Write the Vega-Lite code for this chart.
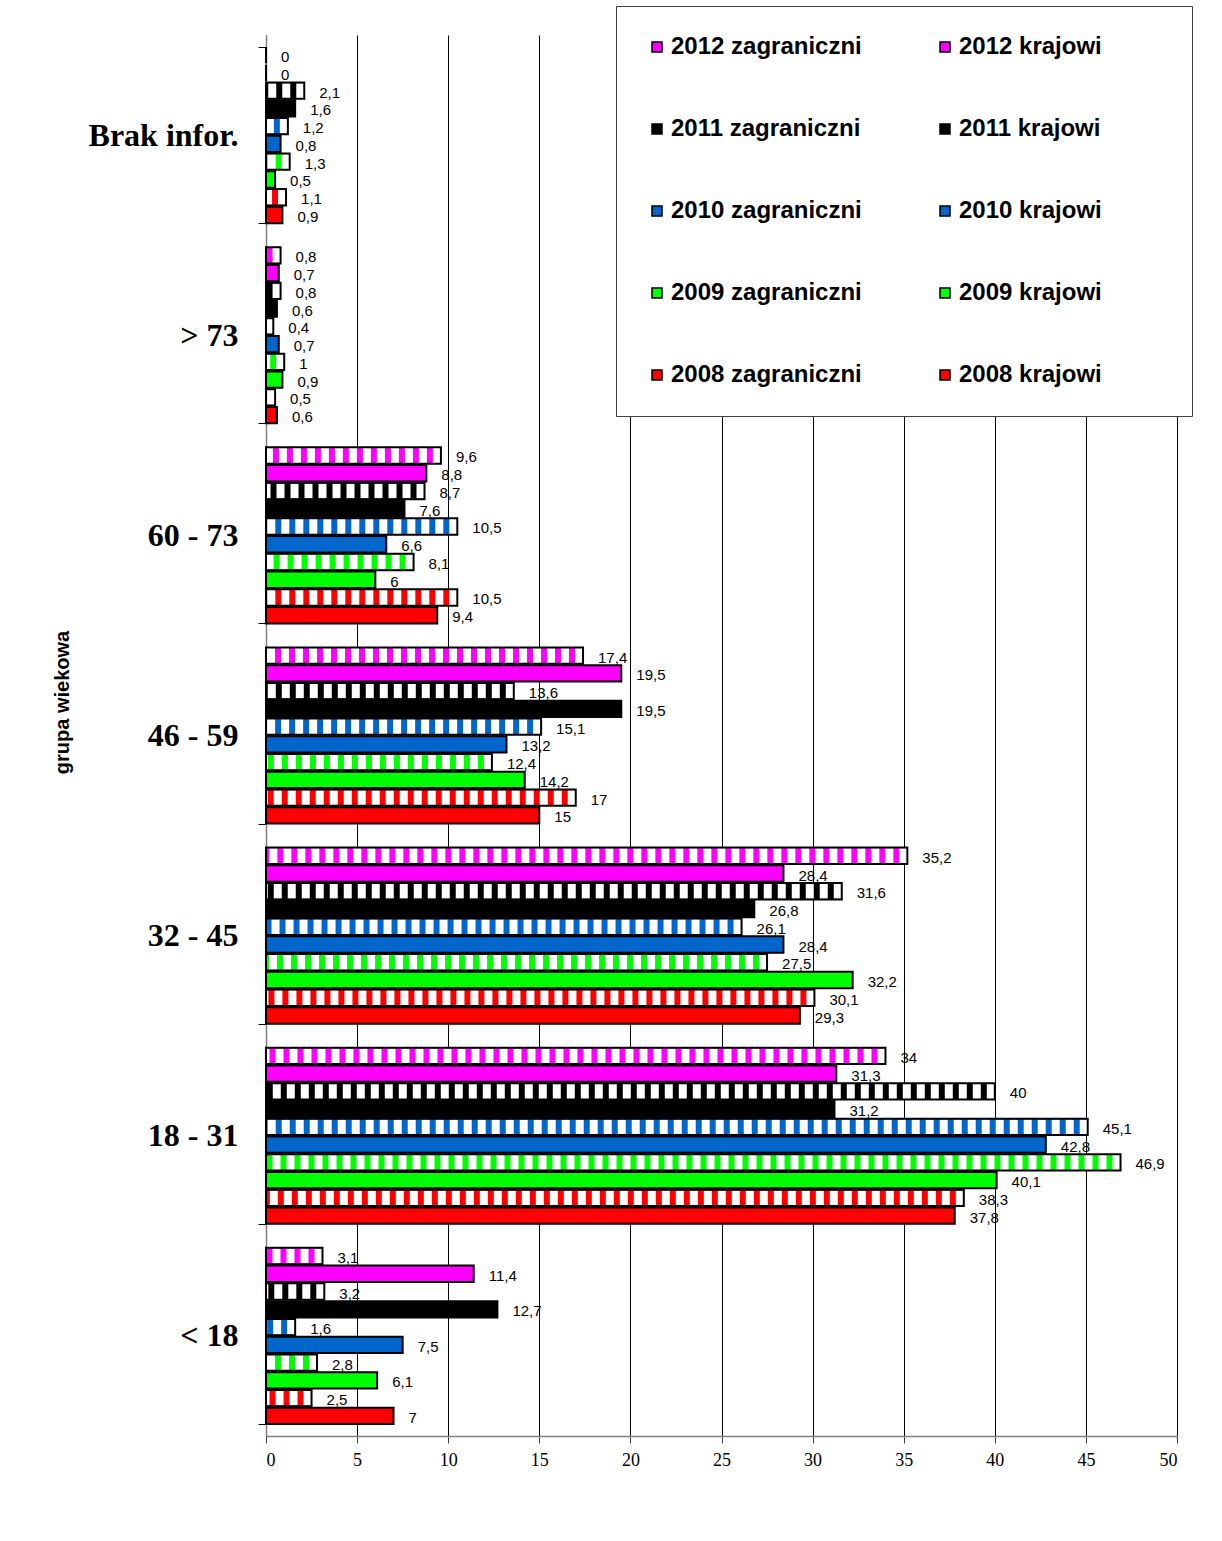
{
  "$schema": "https://vega.github.io/schema/vega-lite/v6.json",
  "width": 911,
  "height": 1401,
  "autosize": {"type": "none"},
  "padding": {"left": 266, "top": 35, "right": 45, "bottom": 105},
  "background": "white",
  "config": {
    "view": {"stroke": null},
    "locale": {"number": {"decimal": ",", "thousands": " ", "grouping": [3], "currency": ["", ""]}}
  },
  "data": {
    "values": [
      {"g": "Brak infor.", "s": "2012 zagraniczni", "v": 0},
      {"g": "Brak infor.", "s": "2012 krajowi", "v": 0},
      {"g": "Brak infor.", "s": "2011 zagraniczni", "v": 2.1},
      {"g": "Brak infor.", "s": "2011 krajowi", "v": 1.6},
      {"g": "Brak infor.", "s": "2010 zagraniczni", "v": 1.2},
      {"g": "Brak infor.", "s": "2010 krajowi", "v": 0.8},
      {"g": "Brak infor.", "s": "2009 zagraniczni", "v": 1.3},
      {"g": "Brak infor.", "s": "2009 krajowi", "v": 0.5},
      {"g": "Brak infor.", "s": "2008 zagraniczni", "v": 1.1},
      {"g": "Brak infor.", "s": "2008 krajowi", "v": 0.9},
      {"g": "> 73", "s": "2012 zagraniczni", "v": 0.8},
      {"g": "> 73", "s": "2012 krajowi", "v": 0.7},
      {"g": "> 73", "s": "2011 zagraniczni", "v": 0.8},
      {"g": "> 73", "s": "2011 krajowi", "v": 0.6},
      {"g": "> 73", "s": "2010 zagraniczni", "v": 0.4},
      {"g": "> 73", "s": "2010 krajowi", "v": 0.7},
      {"g": "> 73", "s": "2009 zagraniczni", "v": 1},
      {"g": "> 73", "s": "2009 krajowi", "v": 0.9},
      {"g": "> 73", "s": "2008 zagraniczni", "v": 0.5},
      {"g": "> 73", "s": "2008 krajowi", "v": 0.6},
      {"g": "60 - 73", "s": "2012 zagraniczni", "v": 9.6},
      {"g": "60 - 73", "s": "2012 krajowi", "v": 8.8},
      {"g": "60 - 73", "s": "2011 zagraniczni", "v": 8.7},
      {"g": "60 - 73", "s": "2011 krajowi", "v": 7.6},
      {"g": "60 - 73", "s": "2010 zagraniczni", "v": 10.5},
      {"g": "60 - 73", "s": "2010 krajowi", "v": 6.6},
      {"g": "60 - 73", "s": "2009 zagraniczni", "v": 8.1},
      {"g": "60 - 73", "s": "2009 krajowi", "v": 6},
      {"g": "60 - 73", "s": "2008 zagraniczni", "v": 10.5},
      {"g": "60 - 73", "s": "2008 krajowi", "v": 9.4},
      {"g": "46 - 59", "s": "2012 zagraniczni", "v": 17.4},
      {"g": "46 - 59", "s": "2012 krajowi", "v": 19.5},
      {"g": "46 - 59", "s": "2011 zagraniczni", "v": 13.6},
      {"g": "46 - 59", "s": "2011 krajowi", "v": 19.5},
      {"g": "46 - 59", "s": "2010 zagraniczni", "v": 15.1},
      {"g": "46 - 59", "s": "2010 krajowi", "v": 13.2},
      {"g": "46 - 59", "s": "2009 zagraniczni", "v": 12.4},
      {"g": "46 - 59", "s": "2009 krajowi", "v": 14.2},
      {"g": "46 - 59", "s": "2008 zagraniczni", "v": 17},
      {"g": "46 - 59", "s": "2008 krajowi", "v": 15},
      {"g": "32 - 45", "s": "2012 zagraniczni", "v": 35.2},
      {"g": "32 - 45", "s": "2012 krajowi", "v": 28.4},
      {"g": "32 - 45", "s": "2011 zagraniczni", "v": 31.6},
      {"g": "32 - 45", "s": "2011 krajowi", "v": 26.8},
      {"g": "32 - 45", "s": "2010 zagraniczni", "v": 26.1},
      {"g": "32 - 45", "s": "2010 krajowi", "v": 28.4},
      {"g": "32 - 45", "s": "2009 zagraniczni", "v": 27.5},
      {"g": "32 - 45", "s": "2009 krajowi", "v": 32.2},
      {"g": "32 - 45", "s": "2008 zagraniczni", "v": 30.1},
      {"g": "32 - 45", "s": "2008 krajowi", "v": 29.3},
      {"g": "18 - 31", "s": "2012 zagraniczni", "v": 34},
      {"g": "18 - 31", "s": "2012 krajowi", "v": 31.3},
      {"g": "18 - 31", "s": "2011 zagraniczni", "v": 40},
      {"g": "18 - 31", "s": "2011 krajowi", "v": 31.2},
      {"g": "18 - 31", "s": "2010 zagraniczni", "v": 45.1},
      {"g": "18 - 31", "s": "2010 krajowi", "v": 42.8},
      {"g": "18 - 31", "s": "2009 zagraniczni", "v": 46.9},
      {"g": "18 - 31", "s": "2009 krajowi", "v": 40.1},
      {"g": "18 - 31", "s": "2008 zagraniczni", "v": 38.3},
      {"g": "18 - 31", "s": "2008 krajowi", "v": 37.8},
      {"g": "< 18", "s": "2012 zagraniczni", "v": 3.1},
      {"g": "< 18", "s": "2012 krajowi", "v": 11.4},
      {"g": "< 18", "s": "2011 zagraniczni", "v": 3.2},
      {"g": "< 18", "s": "2011 krajowi", "v": 12.7},
      {"g": "< 18", "s": "2010 zagraniczni", "v": 1.6},
      {"g": "< 18", "s": "2010 krajowi", "v": 7.5},
      {"g": "< 18", "s": "2009 zagraniczni", "v": 2.8},
      {"g": "< 18", "s": "2009 krajowi", "v": 6.1},
      {"g": "< 18", "s": "2008 zagraniczni", "v": 2.5},
      {"g": "< 18", "s": "2008 krajowi", "v": 7}
    ]
  },
  "encoding": {
    "x": {
      "field": "v", "type": "quantitative",
      "scale": {"domain": [0, 50], "nice": false},
      "axis": {
        "title": null, "values": [0,5,10,15,20,25,30,35,40,45,50],
        "grid": true, "gridColor": "black", "gridWidth": 1, "gridOpacity": 1,
        "domainColor": "#808080", "domainWidth": 1.5,
        "tickColor": "#404040", "tickSize": 7,
        "labelFont": "Liberation Serif", "labelFontSize": 18, "labelColor": "black",
        "labelPadding": 8
      }
    },
    "y": {
      "field": "g", "type": "nominal",
      "sort": ["Brak infor.", "> 73", "60 - 73", "46 - 59", "32 - 45", "18 - 31", "< 18"],
      "scale": {"paddingInner": 0.12, "paddingOuter": 0.06},
      "axis": {
        "title": "grupa wiekowa", "titleFont": "Liberation Sans", "titleFontSize": 20,
        "titleFontWeight": "bold", "titleColor": "black", "titleX": -194, "titleY": 667,
        "labelFont": "Liberation Serif", "labelFontSize": 32, "labelFontWeight": "bold",
        "labelColor": "black", "labelPadding": 20,
        "tickBand": "extent", "tickSize": 8, "tickColor": "black",
        "domainColor": "#808080", "domainWidth": 1.5
      }
    },
    "yOffset": {
      "field": "s", "type": "nominal",
      "sort": ["2012 zagraniczni", "2012 krajowi", "2011 zagraniczni", "2011 krajowi", "2010 zagraniczni", "2010 krajowi", "2009 zagraniczni", "2009 krajowi", "2008 zagraniczni", "2008 krajowi"],
      "scale": {"paddingInner": 0.08, "paddingOuter": 0}
    }
  },
  "layer": [
    {
      "mark": {"type": "bar"},
      "encoding": {
        "color": {
          "field": "s", "type": "nominal",
          "scale": {
            "domain": ["2012 zagraniczni", "2011 zagraniczni", "2010 zagraniczni", "2009 zagraniczni", "2008 zagraniczni", "2012 krajowi", "2011 krajowi", "2010 krajowi", "2009 krajowi", "2008 krajowi"],
            "range": ["#ff00ff", "#000000", "#0066cc", "#00ff00", "#ff0000", "#ff00ff", "#000000", "#0066cc", "#00ff00", "#ff0000"]
          },
          "legend": {
            "title": "MMMMM", "titleOrient": "right", "titleColor": "white", "titleFont": "Liberation Sans",
            "titleFontSize": 14, "titleFontWeight": "bold", "titlePadding": 2,
            "orient": "none", "legendX": 350, "legendY": -29,
            "columns": 2, "gridAlign": "all", "columnPadding": 71, "rowPadding": 58,
            "padding": 29, "fillColor": "white", "strokeColor": "#404040",
            "symbolType": "square", "symbolSize": 100, "symbolStrokeColor": "black",
            "symbolStrokeWidth": 1.5, "symbolOpacity": 1,
            "labelFont": "Liberation Sans", "labelFontSize": 24, "labelFontWeight": "bold",
            "labelColor": "black", "labelOffset": 2, "labelLimit": 400
          }
        }
      }
    },
    {
      "transform": [{"filter": "indexof(datum.s, 'zagr') >= 0"}],
      "mark": {"type": "rule", "color": "white", "strokeWidth": 15, "strokeDash": [8, 6], "strokeCap": "butt"},
      "encoding": {"x2": {"datum": 0}}
    },
    {
      "mark": {"type": "bar", "fillOpacity": 0, "stroke": "black", "strokeWidth": 2},
      "encoding": {}
    },
    {
      "mark": {"type": "text", "align": "left", "baseline": "middle", "dx": 15, "dy": 2, "font": "Liberation Sans", "fontSize": 15, "color": "black"},
      "encoding": {"text": {"field": "v", "type": "quantitative", "format": "~g"}}
    }
  ]
}
